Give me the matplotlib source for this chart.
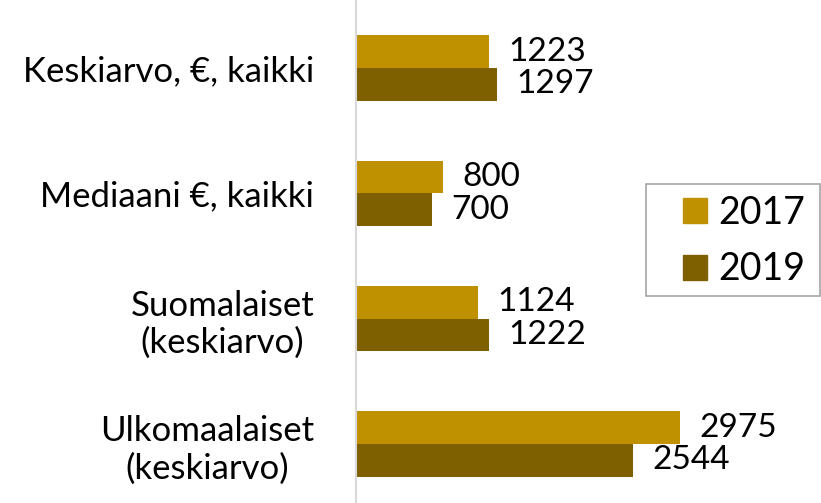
import matplotlib
matplotlib.use('Agg')
import matplotlib.pyplot as plt
import numpy as np
from matplotlib.patches import Patch, Rectangle

plt.rcParams['font.family'] = ['Lato', 'DejaVu Sans']

# data
categories = ['Keskiarvo, €, kaikki', 'Mediaani €, kaikki',
              'Suomalaiset\n(keskiarvo)', 'Ulkomaalaiset\n(keskiarvo)']
values_2017 = [1223, 800, 1124, 2975]
values_2019 = [1297, 700, 1222, 2544]
series_names = ['2017', '2019']
colors = ['#BF9000', '#7F6000']

W, H = 821, 503
fig = plt.figure(figsize=(W / 100, H / 100), dpi=100)
ax = fig.add_axes([356 / W, 0, 1 - 356 / W, 1])

y = np.arange(len(categories))
h = 0.26
ax.barh(y - h / 2, values_2017, height=h, color=colors[0], label=series_names[0])
ax.barh(y + h / 2, values_2019, height=h, color=colors[1], label=series_names[1])

fs = 24
for i in range(len(categories)):
    ax.text(values_2017[i] + 175, y[i] - h / 2, str(values_2017[i]), va='center', ha='left', fontsize=fs)
    ax.text(values_2019[i] + 175, y[i] + h / 2, str(values_2019[i]), va='center', ha='left', fontsize=fs)

ax.set_xlim(0, 465 / 0.10891)
ax.set_ylim(3.4708, -0.5426)
ax.set_yticks(y)
ax.set_yticklabels(categories, fontsize=25, multialignment='center')
ax.tick_params(axis='y', length=0, pad=30)
ax.set_xticks([])
for s in ['top', 'right', 'bottom']:
    ax.spines[s].set_visible(False)
ax.spines['left'].set_color('#D9D9D9')
ax.spines['left'].set_linewidth(1.5)

# legend box drawn by hand so the padding matches
fig.patches.append(Rectangle((646 / W, 1 - 296 / H), 174 / W, 112 / H, transform=fig.transFigure,
                             facecolor='none', edgecolor='#A6A6A6', linewidth=1.2, zorder=5))
handles = [Patch(color=c) for c in colors]
leg = ax.legend(handles, series_names, loc='center left', bbox_to_anchor=(683 / W, 1 - 241 / H),
                bbox_transform=fig.transFigure, fontsize=27, frameon=False,
                handlelength=0.65, handleheight=0.65, handletextpad=0.3,
                borderpad=0, borderaxespad=0, labelspacing=0.55)

fig.savefig('out.png', dpi=100)
